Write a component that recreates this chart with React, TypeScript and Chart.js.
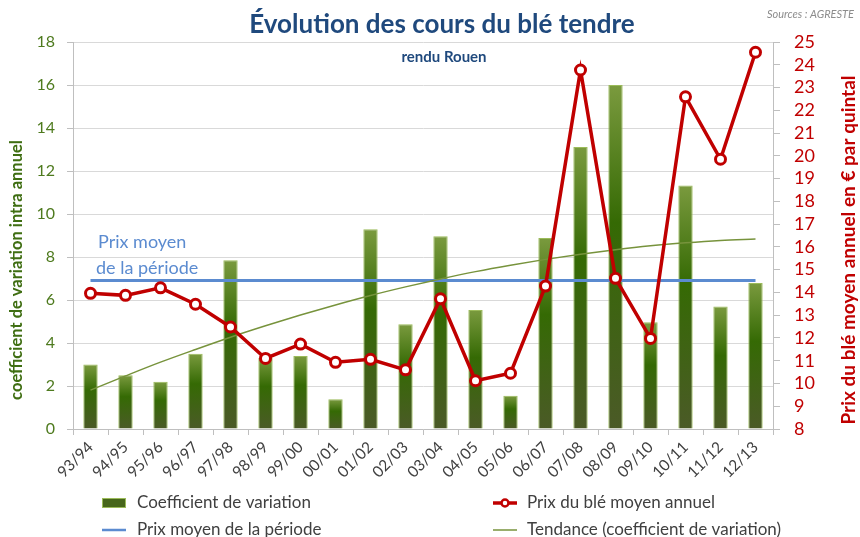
import React, { useEffect, useRef } from "react";
import { Chart, registerables } from "chart.js";

Chart.register(...registerables);

const categories = ["93/94", "94/95", "95/96", "96/97", "97/98", "98/99", "99/00", "00/01", "01/02", "02/03", "03/04", "04/05", "05/06", "06/07", "07/08", "08/09", "09/10", "10/11", "11/12", "12/13"];
const coefVariation = [3.0, 2.5, 2.2, 3.5, 7.85, 3.3, 3.4, 1.38, 9.29, 4.87, 8.96, 5.53, 1.55, 8.88, 13.12, 16.0, 4.96, 11.33, 5.7, 6.79];
const prixAnnuel = [13.96, 13.87, 14.2, 13.48, 12.48, 11.1, 11.73, 10.93, 11.06, 10.6, 13.72, 10.12, 10.45, 14.28, 23.77, 14.62, 11.98, 22.59, 19.85, 24.55];
const prixMoyenPeriode = 14.52;
const tendance = [1.81, 2.47, 3.11, 3.7, 4.27, 4.8, 5.3, 5.77, 6.21, 6.61, 6.98, 7.32, 7.62, 7.89, 8.13, 8.34, 8.52, 8.66, 8.77, 8.84];
const leftTicks = { min: 0, max: 18, step: 2 };
const rightTicks = { min: 8, max: 25, step: 1 };

const FONT = "Lato, 'Open Sans', sans-serif";
const GREEN_TXT = "#4E7A1E";
const RED = "#C00000";
const BLUE = "#5B8BD0";
const TITLE_BLUE = "#1F497D";

const overlay = {
  id: "overlay",
  afterDraw(chart: any) {
    const ctx = chart.ctx;
    ctx.save();
    // Title
    ctx.fillStyle = TITLE_BLUE;
    ctx.textAlign = "center";
    ctx.textBaseline = "alphabetic";
    ctx.font = `bold 26px ${FONT}`;
    ctx.fillText("Évolution des cours du blé tendre", 442, 33);
    ctx.font = `bold 15px ${FONT}`;
    ctx.fillText("rendu Rouen", 444, 62);
    // Source
    ctx.fillStyle = "#8C8C8C";
    ctx.textAlign = "right";
    ctx.font = `italic 11px ${FONT}`;
    ctx.fillText("Sources : AGRESTE", 854, 18);
    // annotation
    ctx.fillStyle = BLUE;
    ctx.textAlign = "left";
    ctx.font = `18px ${FONT}`;
    ctx.textBaseline = "middle";
    ctx.fillText("Prix moyen", 98, 242);
    ctx.fillText("de la période", 96, 268);
    // axis titles
    ctx.save();
    ctx.translate(17, 270);
    ctx.rotate(-Math.PI / 2);
    ctx.textAlign = "center";
    ctx.fillStyle = "#3F6E12";
    ctx.font = `bold 16.5px ${FONT}`;
    ctx.fillText("coefficient de variation intra annuel", 0, 0);
    ctx.restore();
    ctx.save();
    ctx.translate(849, 250);
    ctx.rotate(-Math.PI / 2);
    ctx.textAlign = "center";
    ctx.fillStyle = RED;
    ctx.font = `bold 19px ${FONT}`;
    ctx.fillText("Prix du blé moyen annuel en € par quintal", 0, 0);
    ctx.restore();

    // legend
    const ds = chart.data.datasets;
    ctx.font = `17px ${FONT}`;
    ctx.fillStyle = "#404040";
    ctx.textAlign = "left";
    ctx.textBaseline = "middle";
    // bar
    ctx.fillStyle = "#47661B";
    ctx.fillRect(102, 498, 24, 10);
    ctx.strokeStyle = "#9BBB59";
    ctx.lineWidth = 1;
    ctx.strokeRect(102.5, 498.5, 23, 9);
    ctx.fillStyle = "#404040";
    ctx.fillText(ds[0].label, 137, 503);
    // price
    ctx.strokeStyle = RED;
    ctx.lineWidth = 3.5;
    ctx.beginPath();
    ctx.moveTo(493, 503);
    ctx.lineTo(517, 503);
    ctx.stroke();
    ctx.beginPath();
    ctx.arc(505, 503, 3.5, 0, Math.PI * 2);
    ctx.fillStyle = "#fff";
    ctx.fill();
    ctx.lineWidth = 2.5;
    ctx.stroke();
    ctx.fillStyle = "#404040";
    ctx.fillText(ds[3].label, 527, 503);
    // mean
    ctx.strokeStyle = BLUE;
    ctx.lineWidth = 2.5;
    ctx.beginPath();
    ctx.moveTo(102, 530);
    ctx.lineTo(126, 530);
    ctx.stroke();
    ctx.fillText(ds[1].label, 137, 530);
    // trend
    ctx.strokeStyle = "#77933C";
    ctx.lineWidth = 1.5;
    ctx.beginPath();
    ctx.moveTo(493, 530);
    ctx.lineTo(517, 530);
    ctx.stroke();
    ctx.fillText(ds[2].label, 527, 530);
    ctx.restore();
  },
};

export default function App() {
  const ref = useRef<HTMLCanvasElement | null>(null);
  useEffect(() => {
    document.body.style.margin = "0";
    const canvas = ref.current!;
    const barColor = (context: any) => {
      const chart = context.chart;
      const y = chart.scales && chart.scales.y;
      if (!y || context.dataIndex === undefined) return "#3a6b0a";
      const v = coefVariation[context.dataIndex];
      const top = y.getPixelForValue(v);
      const bottom = y.getPixelForValue(0);
      if (!isFinite(top) || !isFinite(bottom) || bottom - top < 1) return "#3a6b0a";
      const g = chart.ctx.createLinearGradient(0, top, 0, bottom);
      g.addColorStop(0, "#7A9A3E");
      g.addColorStop(0.4, "#356A04");
      g.addColorStop(1, "#4B5A27");
      return g;
    };
    const chart = new Chart(canvas, {
      type: "bar",
      data: {
        labels: categories,
        datasets: [
          {
            type: "bar",
            label: "Coefficient de variation",
            data: coefVariation,
            yAxisID: "y",
            backgroundColor: barColor,
            borderColor: "#9BBB59",
            borderWidth: 1,
            barPercentage: 0.41,
            categoryPercentage: 1,
            order: 4,
          },
          {
            type: "line",
            label: "Prix moyen de la période",
            data: [
              { x: categories[0], y: prixMoyenPeriode },
              { x: categories[categories.length - 1], y: prixMoyenPeriode },
            ],
            yAxisID: "y1",
            borderColor: BLUE,
            borderWidth: 3,
            pointRadius: 0,
            order: 3,
          },
          {
            type: "line",
            label: "Tendance (coefficient de variation)",
            data: tendance,
            yAxisID: "y",
            borderColor: "#77933C",
            borderWidth: 1.5,
            pointRadius: 0,
            cubicInterpolationMode: "monotone",
            order: 2,
          },
          {
            type: "line",
            label: "Prix du blé moyen annuel",
            data: prixAnnuel,
            yAxisID: "y1",
            borderColor: RED,
            borderWidth: 3.5,
            pointRadius: 5,
            pointBorderWidth: 3,
            pointBackgroundColor: "#FFFFFF",
            pointBorderColor: RED,
            order: 1,
          },
        ],
      } as any,
      options: {
        responsive: false,
        animation: false,
        layout: { padding: { top: 42, left: 0, right: 0, bottom: 0 } },
        plugins: { legend: { display: false }, tooltip: { enabled: false }, title: { display: false } },
        scales: {
          x: {
            offset: true,
            grid: { offset: true, drawOnChartArea: false, tickLength: 6, color: "#BFBFBF", tickColor: "#BFBFBF" },
            border: { color: "#BFBFBF" },
            ticks: { minRotation: 45, maxRotation: 45, color: "#404040", font: { family: FONT, size: 15.5 }, padding: 3, autoSkip: false },
            afterFit: (s: any) => { s.height = 108; },
          },
          y: {
            position: "left",
            min: leftTicks.min,
            max: leftTicks.max,
            ticks: { stepSize: leftTicks.step, color: GREEN_TXT, font: { family: FONT, size: 16 }, padding: 12, autoSkip: false },
            grid: { color: "#D9D9D9", tickColor: "#BFBFBF", tickLength: 6 },
            border: { color: "#BFBFBF" },
            afterFit: (s: any) => { s.width = 73; },
          },
          y1: {
            position: "right",
            min: rightTicks.min,
            max: rightTicks.max,
            ticks: { stepSize: rightTicks.step, color: RED, font: { family: FONT, size: 18 }, padding: 14, autoSkip: false },
            grid: { drawOnChartArea: false, tickColor: "#BFBFBF", tickLength: 7 },
            border: { color: "#BFBFBF" },
            afterFit: (s: any) => { s.width = 87; },
          },
        },
      },
      plugins: [overlay],
    } as any);
    return () => chart.destroy();
  }, []);
  return (
    <div style={{ position: "absolute", left: 0, top: 0, width: 860, height: 537, background: "#fff" }}>
      <canvas ref={ref} width={860} height={537} style={{ display: "block", width: 860, height: 537 }} />
    </div>
  );
}
